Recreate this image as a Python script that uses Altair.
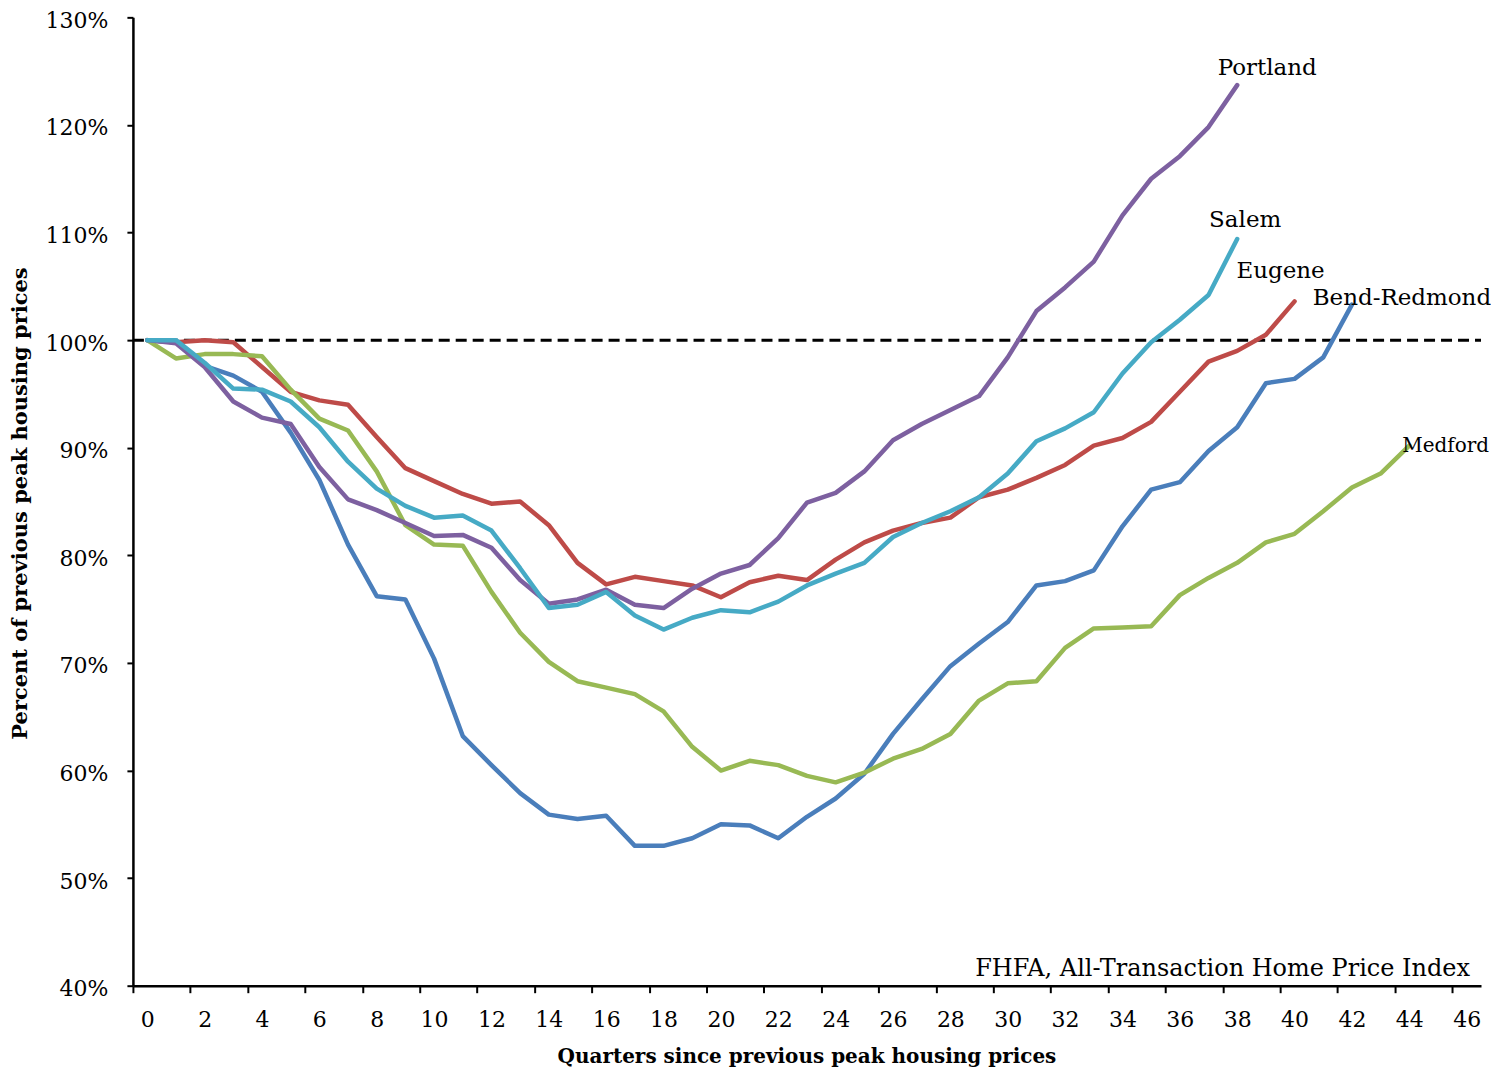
import altair as alt
import pandas as pd

# ---- data (percent of previous peak) ----
series_names = ["Bend-Redmond", "Eugene", "Medford", "Portland", "Salem"]
series_colors = ["#4A7EBB", "#BE4B48", "#98B954", "#7D60A0", "#46AAC5"]

bend_redmond = [100, 99.8, 97.6, 96.7, 95.2, 91.4, 87.0, 81.0, 76.2, 75.9,
                70.4, 63.2, 60.5, 57.9, 55.9, 55.5, 55.8, 53.0, 53.0, 53.7,
                55.0, 54.9, 53.7, 55.7, 57.4, 59.7, 63.4, 66.6, 69.7, 71.8,
                73.8, 77.2, 77.6, 78.6, 82.7, 86.1, 86.8, 89.7, 91.9, 96.0,
                96.4, 98.4, 103.3]
eugene = [100, 99.8, 100.0, 99.8, 97.5, 95.2, 94.4, 94.0, 91.0, 88.1,
          86.9, 85.7, 84.8, 85.0, 82.8, 79.3, 77.3, 78.0, 77.6, 77.2,
          76.1, 77.5, 78.1, 77.7, 79.6, 81.2, 82.3, 83.0, 83.5, 85.4,
          86.1, 87.2, 88.4, 90.2, 90.9, 92.4, 95.2, 98.0, 99.0, 100.5,
          103.6]
medford = [100, 98.3, 98.7, 98.7, 98.5, 95.4, 92.7, 91.6, 87.8, 82.8,
           81.0, 80.9, 76.6, 72.8, 70.1, 68.3, 67.7, 67.1, 65.5, 62.2,
           60.0, 60.9, 60.5, 59.5, 58.9, 59.8, 61.1, 62.0, 63.4, 66.5,
           68.1, 68.3, 71.4, 73.2, 73.3, 73.4, 76.3, 77.9, 79.3, 81.2,
           82.0, 84.1, 86.3, 87.6, 90.2]
portland = [100, 99.7, 97.5, 94.3, 92.8, 92.2, 88.2, 85.2, 84.2, 83.0,
            81.8, 81.9, 80.7, 77.7, 75.5, 75.9, 76.8, 75.4, 75.1, 76.9,
            78.3, 79.1, 81.6, 84.9, 85.8, 87.8, 90.7, 92.2, 93.5, 94.8,
            98.4, 102.7, 104.9, 107.3, 111.6, 115.0, 117.1, 119.8, 123.7]
salem = [100, 100.0, 97.9, 95.5, 95.4, 94.3, 91.9, 88.7, 86.2, 84.6,
         83.5, 83.7, 82.3, 78.8, 75.1, 75.4, 76.6, 74.4, 73.1, 74.2,
         74.9, 74.7, 75.7, 77.2, 78.3, 79.3, 81.7, 83.0, 84.1, 85.4,
         87.6, 90.6, 91.8, 93.3, 96.9, 99.8, 101.9, 104.2, 109.4]

x_ticks = [i - 0.5 for i in range(48)]       # category boundaries -0.5 .. 46.5
y_ticks = list(range(40, 131, 10))
baseline_value = 100
source_note = "FHFA, All-Transaction Home Price Index"
x_title = "Quarters since previous peak housing prices"
y_title = "Percent of previous peak housing prices"

# ---- build table ----
rows = []
for name, vals in zip(series_names, [bend_redmond, eugene, medford, portland, salem]):
    for q, v in enumerate(vals):
        rows.append({"series": name, "quarter": q, "value": v})
df = pd.DataFrame(rows)
ends = df.groupby("series").tail(1).reset_index(drop=True)

W, H = 1349, 969
FONT = "DejaVu Serif"

x_scale = alt.Scale(domain=[-0.5, 46.5], nice=False, zero=False)
y_scale = alt.Scale(domain=[40, 130], nice=False, zero=False)

x_axis = alt.Axis(
    values=x_ticks,
    labelExpr="((datum.value + 0.5) % 2 == 0) ? format(datum.value + 0.5, 'd') : ''",
    labelOffset=W / 47 / 2,
    labelOverlap=False,
    labelBound=False,
    labelFlush=False,
    labelFont=FONT, labelFontSize=22, labelColor="black",
    labelPadding=17,
    tickSize=7, tickWidth=2, tickColor="black",
    domainColor="black", domainWidth=2.5,
    grid=False,
    title=x_title,
    titleFont=FONT, titleFontSize=20, titleFontWeight="bold", titleColor="black",
    titleX=674, titleY=71, titleAlign="center", titleBaseline="middle",
)
y_axis = alt.Axis(
    values=y_ticks,
    labelExpr="datum.value + '%'",
    labelFont=FONT, labelFontSize=22, labelColor="black",
    labelPadding=19, labelOffset=3,
    tickSize=6, tickWidth=2, tickColor="black",
    domainColor="black", domainWidth=2.5,
    grid=False,
    title=y_title,
    titleFont=FONT, titleFontSize=21, titleFontWeight="bold", titleColor="black",
    titleAngle=-90, titleX=-112, titleY=486, titleAlign="center", titleBaseline="middle",
)

color_scale = alt.Scale(domain=series_names, range=series_colors)

lines = alt.Chart(df).mark_line(strokeWidth=4.5, strokeJoin="round", strokeCap="round").encode(
    x=alt.X("quarter:Q", scale=x_scale, axis=x_axis),
    y=alt.Y("value:Q", scale=y_scale, axis=y_axis),
    color=alt.Color("series:N", scale=color_scale, legend=None),
    order=alt.Order("quarter:Q"),
)

ref_line = alt.Chart(pd.DataFrame({"v": [baseline_value]})).mark_rule(
    color="black", strokeWidth=3, strokeDash=[11, 6]
).encode(
    y=alt.Y("v:Q", scale=y_scale),
    x=alt.value(0),
    x2=alt.value(W),
)

# label offsets (pixels) relative to each series' last point
label_style = {
    "Portland": dict(dx=30, dy=-17, size=23, align="center"),
    "Salem": dict(dx=8, dy=-19, size=23, align="center"),
    "Eugene": dict(dx=-14, dy=-30, size=23, align="center"),
    "Bend-Redmond": dict(dx=50, dy=-7, size=23, align="center"),
    "Medford": dict(dx=-7, dy=0, size=20, align="left"),
}
label_layers = []
for name in series_names:
    st = label_style[name]
    label_layers.append(
        alt.Chart(ends).transform_filter(alt.datum.series == name).mark_text(
            font=FONT, fontSize=st["size"], color="black", align=st["align"], baseline="middle",
            dx=st["dx"], dy=st["dy"]
        ).encode(
            x=alt.X("quarter:Q", scale=x_scale),
            y=alt.Y("value:Q", scale=y_scale),
            text="series:N",
        )
    )

note = alt.Chart(pd.DataFrame({"t": [source_note]})).mark_text(
    font=FONT, fontSize=24, color="black", align="right", baseline="middle"
).encode(
    x=alt.value(1338),
    y=alt.value(952),
    text="t:N",
)

chart = alt.layer(ref_line, lines, *label_layers, note).properties(
    width=W, height=H,
    autosize=alt.AutoSizeParams(type="none"),
    padding={"left": 125, "top": 9, "right": 10, "bottom": 82},
    background="white",
).configure_view(stroke=None)

chart.save("out.html", embed_options={"renderer": "svg", "actions": False})
